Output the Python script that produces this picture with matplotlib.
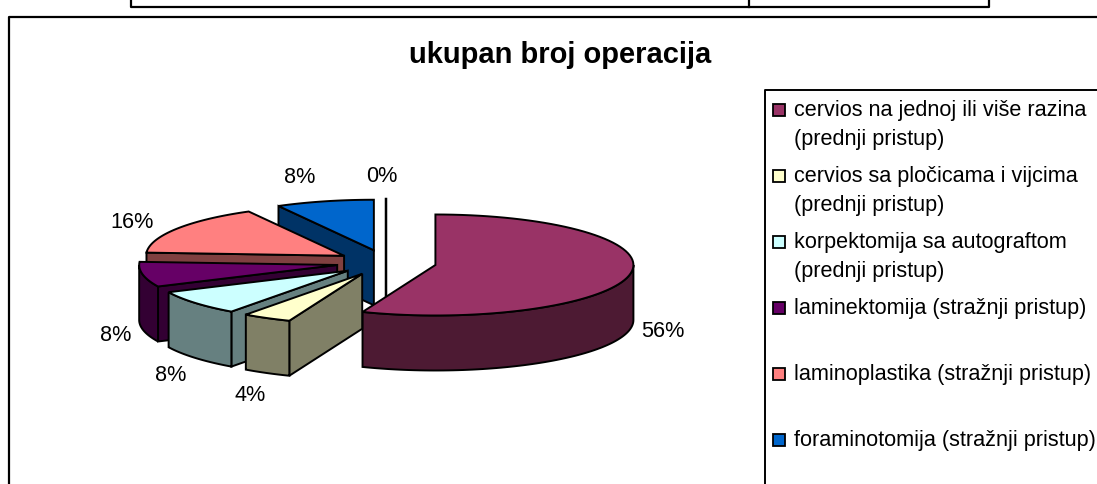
import numpy as np
import matplotlib
matplotlib.use('Agg')
from matplotlib import pyplot as plt
from matplotlib.patches import Polygon, Rectangle

plt.rcParams['font.family'] = ['Liberation Sans', 'DejaVu Sans']

title = 'ukupan broj operacija'
categories = ['cervios na jednoj ili više razina\n(prednji pristup)',
              'cervios sa pločicama i vijcima\n(prednji pristup)',
              'korpektomija sa autograftom\n(prednji pristup)',
              'laminektomija (stražnji pristup)',
              'laminoplastika (stražnji pristup)',
              'foraminotomija (stražnji pristup)']
values = [56, 4, 8, 8, 16, 8, 0]
top_colors = ['#993366', '#FFFFCC', '#CCFFFF', '#660066', '#FF8080', '#0066CC', '#C0C0FF']
side_colors = ['#4D1A33', '#808066', '#668080', '#330033', '#804040', '#003366', '#606080']

# pie geometry in pixels, y goes down
cx, cy = 386.3, 262.6
rx, ry = 198, 50.5
depth = 55
explode = 50
# label offset from the rim point at the middle of each slice
label_off = [(33, 57), (-17, 77), (-25, 73), (-27, 61), (-45, -6), (-25, -24), (-4, -23)]

fig = plt.figure(figsize=(10.97, 4.84), dpi=100)
ax = fig.add_axes([0, 0, 1, 1])
ax.set_xlim(0, 1097)
ax.set_ylim(484, 0)
ax.axis('off')

LW = 1.4
FS = 15.6


def rim(ox, oy, a0, a1):
    t = np.radians(np.linspace(a0, a1, 80))
    return np.column_stack([ox + rx*np.sin(t), oy - ry*np.cos(t)])


def wall(pts):
    # extrude a line of points downwards
    low = pts[::-1] + [0, depth]
    return np.vstack([pts, low])


edges = np.cumsum([0] + values) * 3.6
slices = []
for i in range(len(values)):
    a0, a1 = edges[i], edges[i+1]
    mid = np.radians((a0 + a1)/2)
    ox = cx + explode*np.sin(mid)
    oy = cy - explode*np.cos(mid)*ry/rx
    slices.append((i, a0, a1, mid, ox, oy))

# back to front
draw_order = [5, 6, 0, 4, 3, 2, 1]
for i in draw_order:
    _, a0, a1, mid, ox, oy = slices[i]
    if values[i] == 0:
        p = rim(ox, oy, a0, a1)[0]
        ax.plot([p[0], ox], [p[1], oy + depth], color='k', lw=LW+0.4, zorder=i)
    else:
        apex = np.array([[ox, oy]])
        z = 10 + draw_order.index(i)
        # the start wall is the only flat side seen from the front here
        if np.sin(np.radians(a0)) < -1e-9:
            start = np.vstack([apex, rim(ox, oy, a0, a0+0.001)[:1]])
            ax.add_patch(Polygon(wall(start), fc=side_colors[i], ec='k', lw=LW, zorder=z))
        lo, hi = max(a0, 90), min(a1, 270)
        if hi > lo:
            ax.add_patch(Polygon(wall(rim(ox, oy, lo, hi)), fc=side_colors[i], ec='k', lw=LW, zorder=z))
        top = np.vstack([apex, rim(ox, oy, a0, a1)])
        ax.add_patch(Polygon(top, fc=top_colors[i], ec='k', lw=LW, zorder=z))

    px = ox + rx*np.sin(mid)
    py = oy - ry*np.cos(mid)
    ax.text(px + label_off[i][0], py + label_off[i][1], '%d%%' % values[i],
            fontsize=FS, ha='center', va='center', color='k', zorder=50)

ax.text(560, 55, title, fontsize=21, fontweight='bold', ha='center', va='center', zorder=50)

# legend
rows = [110, 176, 242, 308, 374, 440]
for name, c, y in zip(categories, top_colors, rows):
    ax.add_patch(Rectangle((773, y-6), 12, 12, fc=c, ec='k', lw=1.3, zorder=40))
    for k, line in enumerate(name.split('\n')):
        ax.text(794, y + 0.5 + k*28.5, line, fontsize=FS, ha='left', va='center', zorder=50)

# frames
ax.plot([9, 9, 1097], [484, 17, 17], color='k', lw=LW+0.2, zorder=60)
ax.plot([765, 765, 1097], [484, 89.5, 89.5], color='k', lw=LW, zorder=60)
ax.plot([131, 131, 989, 989], [0, 7, 7, 0], color='k', lw=LW+0.2, zorder=60)
ax.plot([749, 749], [0, 7], color='k', lw=LW+0.2, zorder=60)

plt.savefig('out.png', dpi=100)
